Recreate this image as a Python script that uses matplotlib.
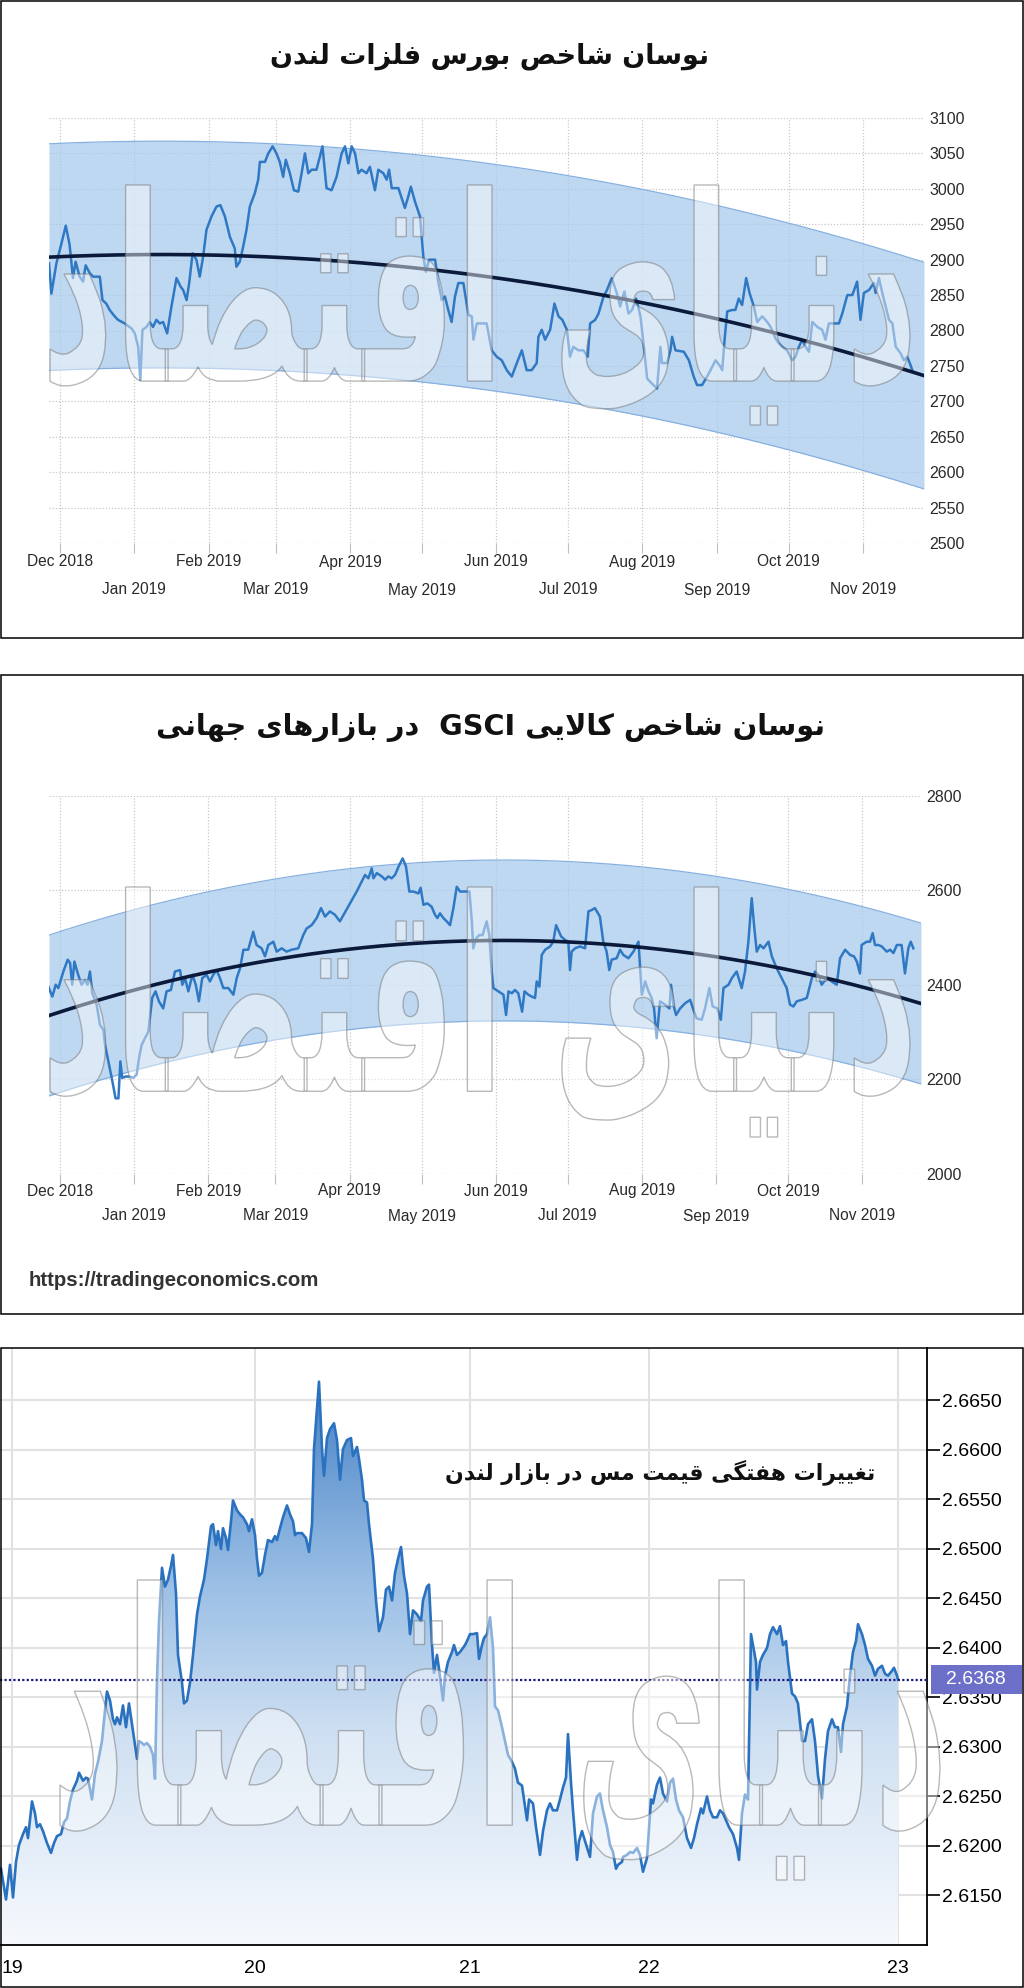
import numpy as np
import pandas as pd
import matplotlib
matplotlib.use("Agg")
import matplotlib.pyplot as plt
from matplotlib.patches import Rectangle, PathPatch
from matplotlib.colors import LinearSegmentedColormap
from matplotlib.textpath import TextPath
from matplotlib.font_manager import FontProperties
from matplotlib.transforms import Affine2D, blended_transform_factory

# ------------------------------------------------------------------ data
title_lme = "نوسان شاخص بورس فلزات لندن"
title_gsci = "نوسان شاخص کالایی GSCI  در بازارهای جهانی"
title_copper = "تغییرات هفتگی قیمت مس در بازار لندن"
source_text = "https://tradingeconomics.com"
watermark_text = "دنیای اقتصاد"

base_date = "2018-12-01"
month_starts = pd.date_range("2018-12-01", "2019-11-01", freq="MS")
month_labels = [d.strftime("%b %Y") for d in month_starts]

# LME index (days since 2018-12-01)
lme_days = [
    -4.6, -3.6, -1.5, 0.6, 2.4, 4.0, 5.4, 6.5, 8.2, 9.6,
    10.7, 12.4, 13.8, 16.6, 17.7, 19.3, 20.7, 22.8, 24.2, 27.0,
    29.8, 31.2, 32.6, 33.5, 34.4, 36.1, 37.4, 38.8, 40.2, 41.6,
    43.0, 44.7, 46.5, 48.6, 50.3, 51.4, 52.8, 53.9, 55.3, 56.9,
    58.3, 59.7, 61.1, 63.2, 65.3, 66.9, 68.8, 70.9, 72.9, 73.6,
    75.0, 76.4, 77.8, 79.2, 81.3, 82.7, 83.4, 85.5, 86.9, 88.7,
    90.3, 91.7, 93.1, 94.2, 95.9, 97.6, 99.4, 100.8, 102.2, 103.6,
    105.0, 107.0, 108.4, 109.5, 111.2, 113.3, 115.4,
    117.5, 118.9, 120.3, 121.7, 123.1, 124.5, 125.8, 127.9, 129.3, 131.4,
    132.8, 134.9, 136.3, 137.3, 138.4, 141.2, 143.9, 145.3, 146.4, 148.1,
    150.2, 151.6, 152.6, 154.0, 156.5, 157.9, 159.3, 160.6, 162.0, 163.4,
    164.8, 166.2, 168.3, 170.4, 171.8, 172.5, 173.9, 178.0, 180.1, 182.2,
    184.3, 186.4, 188.5, 190.6, 192.7, 194.7, 196.8, 198.9, 199.6, 201.0,
    202.4, 204.5, 206.3, 208.0, 209.6, 211.5, 212.8, 214.2, 216.3, 218.4,
    220.2, 221.2, 223.3, 224.7, 226.8, 228.2, 230.2, 232.3, 233.7, 235.5,
    237.2,
    238.7, 240.4, 242.2, 243.6, 245.0, 247.0, 249.1, 250.5, 251.2, 253.3,
    254.7, 255.4, 256.8, 260.3, 262.4, 264.4, 265.8, 267.9, 270.0, 271.4,
    273.5, 275.6, 276.3, 277.4, 278.4, 280.5, 281.8, 283.2, 284.6, 286.3,
    287.7, 289.5, 290.9, 293.0, 295.1, 296.5, 298.5, 299.9, 301.3, 303.4,
    305.5, 306.9, 308.3, 309.7, 311.1, 312.5, 313.9, 316.0, 318.0, 319.4,
    320.8, 325.0, 326.4, 328.5, 330.6, 332.6, 334.0, 335.4, 337.5, 339.6,
    340.3, 341.7, 343.1, 344.5, 345.9, 347.3, 348.7, 350.7, 352.1, 353.5,
    354.9, 355.6,
]
lme_values = [
    2895, 2852, 2895, 2923, 2948, 2921, 2874, 2897, 2876, 2869,
    2892, 2881, 2876, 2876, 2843, 2838, 2829, 2820, 2815, 2810,
    2803, 2796, 2777, 2730, 2801, 2805, 2812, 2805, 2815, 2810,
    2812, 2796, 2834, 2874, 2862, 2857, 2843, 2867, 2909, 2900,
    2876, 2904, 2942, 2961, 2975, 2977, 2961, 2932, 2916, 2890,
    2897, 2918, 2942, 2975, 2994, 3013, 3038, 3038, 3050, 3060,
    3050, 3038, 3017, 3041, 3022, 2998, 2996, 3022, 3050, 3022,
    3027, 3027, 3045, 3060, 3001, 2998, 3017,
    3050, 3060, 3036, 3060, 3050, 3022, 3027, 3022, 3031, 2998,
    3027, 3022, 3013, 3027, 3001, 3001, 2973, 2989, 3003, 2982,
    2961, 2904, 2883, 2900, 2900, 2867, 2843, 2848, 2829, 2812,
    2848, 2867, 2867, 2822, 2820, 2787, 2810, 2810, 2772, 2763,
    2758, 2744, 2735, 2754, 2772, 2744, 2744, 2754, 2791, 2801,
    2787, 2801, 2838, 2820, 2815, 2801, 2763, 2777, 2772, 2772,
    2763, 2810, 2815, 2824, 2848, 2857, 2874, 2853, 2834, 2855,
    2824,
    2829, 2845, 2820, 2777, 2732, 2725, 2718, 2777, 2754, 2754,
    2772, 2791, 2772, 2770, 2758, 2735, 2723, 2723, 2735, 2744,
    2758, 2749, 2744, 2791, 2827, 2829, 2829, 2845, 2836, 2874,
    2853, 2834, 2812, 2820, 2812, 2805, 2789, 2782, 2777, 2772,
    2758, 2763, 2777, 2787, 2777, 2770, 2812, 2805, 2801, 2787,
    2810, 2810, 2824, 2850, 2850, 2869, 2815, 2853, 2857, 2867,
    2853, 2874, 2853, 2834, 2815, 2810, 2777, 2768, 2758, 2763,
    2751, 2744,
]
lme_trend_days = [-4.6, 55.5, 98.7, 116.0, 178.7, 241.4, 300.0, 360.5]
lme_trend_values = [2903, 2907, 2902, 2900, 2874, 2841, 2794, 2737]
lme_band = 160
lme_yticks = list(range(2500, 3101, 50))

# GSCI index
gsci_days = [
    -4.9, -3.2, -1.8, -0.7, 1.4, 3.2, 4.2, 5.1, 6.0, 7.4,
    9.0, 10.4, 11.5, 12.5, 13.5, 15.3, 16.7, 18.1, 18.8, 20.2,
    21.6, 23.2, 24.4, 25.2, 26.0, 27.4, 29.2, 30.6, 32.0, 33.0,
    34.1, 35.5, 36.9, 38.5, 39.9, 41.3, 43.1, 44.5, 46.3, 48.0,
    50.1, 51.1, 52.2, 53.6, 55.3, 56.7, 58.0, 59.4, 61.2, 62.6,
    64.0, 65.4, 66.8, 68.2, 70.3, 72.4, 73.8, 75.2, 76.6, 78.6,
    80.7, 82.1, 84.2, 85.6, 87.0, 89.1, 90.5, 92.6, 94.6, 96.7,
    99.5, 101.6, 103.0, 105.1, 107.2, 109.0, 110.7, 112.7, 114.8, 116.9,
    123.9, 124.6, 126.0, 127.4, 128.8, 130.2, 130.9, 132.3, 134.4, 135.8,
    137.1, 138.5, 139.9, 141.7, 143.1, 144.5, 145.9, 147.6, 149.7, 150.6,
    151.8, 153.4, 155.2, 156.6, 157.6, 158.7, 160.1, 161.5, 162.9, 164.3,
    165.7, 167.1, 169.2, 171.0, 172.0, 172.6, 173.8, 175.1, 176.5, 178.2,
    179.3, 180.3, 181.0, 183.1, 185.2, 186.3, 187.3, 188.7, 190.0, 191.4,
    193.0, 194.0, 195.6, 197.0, 198.4, 199.1, 200.2, 201.2, 202.6, 204.7,
    206.0, 207.2, 209.3, 210.9, 212.3, 213.0, 213.7, 215.1, 217.2, 219.3,
    220.7, 222.1, 223.4, 225.5, 226.9, 228.3, 229.4, 230.4, 232.5, 233.9,
    235.3, 237.4, 239.5,
    241.6, 243.0, 244.4, 245.8, 247.1, 248.1, 249.2, 250.6, 252.7, 254.5,
    255.2, 256.2, 257.3, 259.0, 261.1, 263.2, 264.8, 265.9, 268.0, 269.4,
    271.2, 272.6, 274.6, 276.0, 277.1, 279.2, 280.6, 282.6, 284.7, 286.1,
    287.5, 288.9, 290.0, 291.0, 292.4, 293.8, 295.9, 297.3, 299.3, 301.4,
    303.5, 304.9, 306.3, 307.7, 309.8, 311.9, 314.0, 315.4, 316.7, 318.1,
    320.2, 322.3, 324.4, 325.8, 327.9, 330.0, 331.6, 332.8, 334.1, 334.8,
    336.9, 338.3, 339.4, 340.4, 341.8, 343.2, 345.3, 346.7, 348.1, 349.5,
    351.5, 352.9, 354.3, 355.3, 356.4,
]
gsci_values = [
    2396, 2375, 2400, 2393, 2428, 2453, 2446, 2400, 2449, 2424,
    2400, 2410, 2400, 2428, 2382, 2358, 2315, 2305, 2273, 2238,
    2203, 2160, 2160, 2238, 2203, 2206, 2206, 2203, 2210, 2245,
    2273, 2287, 2301, 2372, 2386, 2365, 2350, 2386, 2389, 2428,
    2431, 2400, 2414, 2386, 2421, 2400, 2365, 2414, 2421, 2407,
    2421, 2431, 2414, 2393, 2393, 2379, 2414, 2435, 2474, 2474,
    2512, 2484, 2477, 2460, 2484, 2491, 2470, 2477, 2470, 2474,
    2477, 2505, 2519, 2526, 2541, 2562, 2544, 2555, 2548, 2534,
    2597, 2604, 2618, 2632, 2625, 2646, 2625, 2636, 2629, 2622,
    2629, 2625, 2632, 2653, 2667, 2650, 2597, 2597, 2593, 2605,
    2569, 2572, 2565, 2548, 2541, 2551, 2541, 2534, 2526, 2562,
    2607, 2597, 2597, 2597, 2534, 2477, 2498, 2505, 2505, 2534,
    2505, 2428, 2393, 2386, 2379, 2336, 2386, 2382, 2389, 2382,
    2343, 2386, 2379, 2375, 2372, 2407, 2396, 2463, 2474, 2481,
    2491, 2526, 2502, 2495, 2491, 2431, 2470, 2477, 2481, 2477,
    2555, 2558, 2562, 2544, 2491, 2470, 2431, 2453, 2456, 2474,
    2463, 2456, 2470,
    2491, 2379, 2407, 2386, 2372, 2350, 2287, 2365, 2358, 2350,
    2400, 2358, 2336, 2350, 2361, 2368, 2343, 2329, 2326, 2350,
    2393, 2354, 2350, 2326, 2393, 2400, 2414, 2428, 2393, 2428,
    2491, 2583, 2519, 2470, 2484, 2477, 2491, 2460, 2435, 2414,
    2393, 2358, 2354, 2365, 2368, 2372, 2414, 2428, 2421, 2400,
    2414, 2407, 2400, 2456, 2474, 2463, 2460, 2449, 2424, 2484,
    2491, 2491, 2509, 2484, 2484, 2481, 2470, 2474, 2467, 2484,
    2484, 2424, 2477, 2491, 2477,
]
gsci_trend_days = [-4.9, 56.4, 119.0, 179.6, 242.2, 300.7, 359.9]
gsci_trend_values = [2335, 2417, 2477, 2495, 2484, 2424, 2365]
gsci_band = 170
gsci_yticks = [2000, 2200, 2400, 2600, 2800]

# Copper weekly (x = bar index along the week)
copper_bars = [
    1, 6, 10, 13, 16, 19, 23, 26, 28, 32,
    35, 37, 40, 43, 47, 51, 54, 57, 61, 64,
    67, 70, 73, 77, 79, 83, 86, 88, 92, 95,
    98, 102, 105, 107, 110, 113, 115, 117, 120, 123,
    126, 129, 132, 134, 137, 139, 142, 144, 147, 150,
    153, 155, 157, 159, 162, 165, 168, 171, 173, 176,
    178, 182, 184, 187, 190, 193, 197, 200, 204, 207,
    211, 213, 216, 218, 221, 223, 226, 228, 231, 233,
    237, 240, 243, 247, 249, 252, 255, 257, 259, 262,
    265, 268, 272, 275, 277, 280, 283, 287, 290, 293,
    295, 297, 302, 306, 309, 312, 314,
    319, 322, 324, 327, 330, 334, 337, 340, 343, 347,
    351, 353, 357, 359, 362, 364, 367, 369, 373, 376,
    379, 383, 386, 389, 392, 395, 398, 401, 404, 407,
    410, 413, 417, 421, 423, 427, 429, 432, 434, 437,
    439, 443, 445, 448, 452, 454, 457, 460, 463, 465,
    467, 470, 473, 477, 479, 482, 484, 487, 490, 493,
    495, 498, 502, 505, 508, 512, 515, 518, 522, 524,
    527, 529, 533, 536, 540, 543, 547, 550, 553, 557,
    560, 563, 566, 568, 571, 573, 577, 579, 582, 585,
    590, 593, 597, 600, 603, 607, 610, 613, 616, 618,
    622,
    623, 627, 630, 633, 637, 640, 643, 647, 651, 653,
    657, 660, 663, 667, 670, 673, 676, 679, 683, 687,
    691, 694, 697, 701, 703, 707, 710, 713, 717, 720,
    723, 726, 729, 733, 737, 739, 742, 745, 748, 751,
    753, 756, 757, 760, 763, 767, 770, 773, 777, 780,
    783, 786, 788, 792, 795, 798, 802, 805, 808, 812,
    815, 818, 822, 825, 828, 832, 835, 838, 841, 843,
    847, 850, 853, 856, 858, 862, 865, 868, 872, 875,
    878, 882, 885, 888, 892, 894, 897, 898,
]
copper_values = [
    2.6177, 2.6146, 2.6181, 2.6148, 2.6184, 2.6201, 2.6212, 2.6219, 2.6208, 2.6245,
    2.6233, 2.6219, 2.6222, 2.6215, 2.6203, 2.6193, 2.6203, 2.6210, 2.6212, 2.6224,
    2.6228, 2.6245, 2.6257, 2.6266, 2.6274, 2.6266, 2.6269, 2.6268, 2.6247, 2.6273,
    2.6285, 2.6306, 2.6337, 2.6356, 2.6347, 2.6328, 2.6323, 2.6330, 2.6323, 2.6342,
    2.6320, 2.6344, 2.6323, 2.6309, 2.6288, 2.6306, 2.6304, 2.6302, 2.6304, 2.6300,
    2.6292, 2.6268, 2.6368, 2.6427, 2.6481, 2.6462, 2.6469, 2.6483, 2.6494, 2.6455,
    2.6393, 2.6365, 2.6344, 2.6347, 2.6365, 2.6393, 2.6434, 2.6452, 2.6469, 2.6490,
    2.6523, 2.6525, 2.6504, 2.6518, 2.6500, 2.6521, 2.6511, 2.6499, 2.6528, 2.6549,
    2.6539, 2.6535, 2.6532, 2.6525, 2.6518, 2.6530, 2.6514, 2.6490, 2.6473, 2.6476,
    2.6494, 2.6509, 2.6507, 2.6513, 2.6509, 2.6521, 2.6532, 2.6544, 2.6535, 2.6528,
    2.6514, 2.6516, 2.6516, 2.6511, 2.6497, 2.6525, 2.6601,
    2.6669, 2.6601, 2.6574, 2.6612, 2.6621, 2.6627, 2.6610, 2.6570, 2.6601, 2.6610,
    2.6612, 2.6594, 2.6603, 2.6591, 2.6570, 2.6549, 2.6547, 2.6525, 2.6490, 2.6448,
    2.6417, 2.6431, 2.6459, 2.6462, 2.6448, 2.6476, 2.6490, 2.6502, 2.6473, 2.6455,
    2.6414, 2.6438, 2.6434, 2.6427, 2.6448, 2.6462, 2.6464, 2.6403, 2.6375, 2.6393,
    2.6379, 2.6347, 2.6372, 2.6386, 2.6396, 2.6403, 2.6393, 2.6396, 2.6400, 2.6403,
    2.6407, 2.6414, 2.6414, 2.6415, 2.6389, 2.6403, 2.6410, 2.6414, 2.6431, 2.6400,
    2.6341, 2.6337, 2.6320, 2.6306, 2.6292, 2.6285, 2.6278, 2.6264, 2.6261, 2.6247,
    2.6226, 2.6247, 2.6243, 2.6219, 2.6191, 2.6215, 2.6236, 2.6243, 2.6236, 2.6236,
    2.6247, 2.6259, 2.6269, 2.6313, 2.6264, 2.6236, 2.6186, 2.6205, 2.6215, 2.6205,
    2.6189, 2.6233, 2.6250, 2.6253, 2.6236, 2.6219, 2.6201, 2.6194, 2.6177, 2.6181,
    2.6184,
    2.6189, 2.6191, 2.6194, 2.6193, 2.6198, 2.6191, 2.6174, 2.6188, 2.6247, 2.6243,
    2.6262, 2.6269, 2.6253, 2.6245, 2.6264, 2.6268, 2.6247, 2.6236, 2.6229, 2.6208,
    2.6198, 2.6208, 2.6222, 2.6238, 2.6233, 2.6250, 2.6236, 2.6229, 2.6229, 2.6236,
    2.6233, 2.6226, 2.6219, 2.6212, 2.6198, 2.6186, 2.6233, 2.6252, 2.6247, 2.6414,
    2.6403, 2.6386, 2.6358, 2.6386, 2.6393, 2.6400, 2.6414, 2.6421, 2.6414, 2.6422,
    2.6403, 2.6407, 2.6386, 2.6354, 2.6351, 2.6344, 2.6306, 2.6306, 2.6323, 2.6328,
    2.6306, 2.6271, 2.6248, 2.6288, 2.6316, 2.6328, 2.6320, 2.6320, 2.6295, 2.6323,
    2.6341, 2.6372, 2.6396, 2.6407, 2.6424, 2.6414, 2.6403, 2.6389, 2.6382, 2.6372,
    2.6379, 2.6382, 2.6374, 2.6372, 2.6377, 2.6380, 2.6372, 2.6368,
]
copper_day_labels = ["19", "20", "21", "22", "23"]
copper_day_bars = [12, 255, 470, 649, 898]
copper_last = 2.6368
copper_yticks = [2.6150, 2.6200, 2.6250, 2.6300, 2.6350, 2.6400,
                 2.6450, 2.6500, 2.6550, 2.6600, 2.6650]

assert len(lme_days) == len(lme_values)
assert len(gsci_days) == len(gsci_values)
assert len(copper_bars) == len(copper_values)

# ------------------------------------------------------------------ Persian shaping
FORMS = {
    'ا': (0xFE8D, 0xFE8E, None, None), 'آ': (0xFE81, 0xFE82, None, None),
    'ب': (0xFE8F, 0xFE90, 0xFE91, 0xFE92), 'پ': (0xFB56, 0xFB57, 0xFB58, 0xFB59),
    'ت': (0xFE95, 0xFE96, 0xFE97, 0xFE98), 'ث': (0xFE99, 0xFE9A, 0xFE9B, 0xFE9C),
    'ج': (0xFE9D, 0xFE9E, 0xFE9F, 0xFEA0), 'چ': (0xFB7A, 0xFB7B, 0xFB7C, 0xFB7D),
    'ح': (0xFEA1, 0xFEA2, 0xFEA3, 0xFEA4), 'خ': (0xFEA5, 0xFEA6, 0xFEA7, 0xFEA8),
    'د': (0xFEA9, 0xFEAA, None, None), 'ذ': (0xFEAB, 0xFEAC, None, None),
    'ر': (0xFEAD, 0xFEAE, None, None), 'ز': (0xFEAF, 0xFEB0, None, None),
    'ژ': (0xFB8A, 0xFB8B, None, None),
    'س': (0xFEB1, 0xFEB2, 0xFEB3, 0xFEB4), 'ش': (0xFEB5, 0xFEB6, 0xFEB7, 0xFEB8),
    'ص': (0xFEB9, 0xFEBA, 0xFEBB, 0xFEBC), 'ض': (0xFEBD, 0xFEBE, 0xFEBF, 0xFEC0),
    'ط': (0xFEC1, 0xFEC2, 0xFEC3, 0xFEC4), 'ظ': (0xFEC5, 0xFEC6, 0xFEC7, 0xFEC8),
    'ع': (0xFEC9, 0xFECA, 0xFECB, 0xFECC), 'غ': (0xFECD, 0xFECE, 0xFECF, 0xFED0),
    'ف': (0xFED1, 0xFED2, 0xFED3, 0xFED4), 'ق': (0xFED5, 0xFED6, 0xFED7, 0xFED8),
    'ک': (0xFB8E, 0xFB8F, 0xFB90, 0xFB91), 'گ': (0xFB92, 0xFB93, 0xFB94, 0xFB95),
    'ل': (0xFEDD, 0xFEDE, 0xFEDF, 0xFEE0), 'م': (0xFEE1, 0xFEE2, 0xFEE3, 0xFEE4),
    'ن': (0xFEE5, 0xFEE6, 0xFEE7, 0xFEE8), 'ه': (0xFEE9, 0xFEEA, 0xFEEB, 0xFEEC),
    'و': (0xFEED, 0xFEEE, None, None), 'ی': (0xFBFC, 0xFBFD, 0xFBFE, 0xFBFF),
    'LA': (0xFEFB, 0xFEFC, None, None), 'LAA': (0xFEF5, 0xFEF6, None, None),
}


def shape_word(word):
    toks = []
    i = 0
    while i < len(word):
        c = word[i]
        if c == 'ل' and i + 1 < len(word) and word[i + 1] in ('ا', 'آ'):
            toks.append('LA' if word[i + 1] == 'ا' else 'LAA')
            i += 2
            continue
        toks.append(c)
        i += 1

    def dual(t):
        return t in FORMS and FORMS[t][2] is not None

    out = []
    for k, t in enumerate(toks):
        if t not in FORMS:
            out.append(t)
            continue
        cp = k > 0 and dual(toks[k - 1])
        cn = k < len(toks) - 1 and dual(t) and toks[k + 1] in FORMS
        iso, fin, ini, med = FORMS[t]
        if cp and cn:
            g = med
        elif cp:
            g = fin
        elif cn:
            g = ini
        else:
            g = iso
        out.append(chr(g))
    return ''.join(reversed(out))


def rtl(text):
    parts = text.split(' ')
    res = []
    for p in reversed(parts):
        if any('\u0600' <= ch <= '\u06FF' for ch in p):
            res.append(shape_word(p))
        else:
            res.append(p)
    return ' '.join(res)


# ------------------------------------------------------------------ figure
W, H = 1024, 1988
fig = plt.figure(figsize=(W / 100, H / 100), dpi=100, facecolor='white')
renderer = fig.canvas.get_renderer()

LAT = ['Liberation Sans', 'DejaVu Sans']
ARAB = ['DejaVu Sans']


def add_ax(x0, y0, x1, y1, **kw):
    return fig.add_axes([x0 / W, 1 - y1 / H, (x1 - x0) / W, (y1 - y0) / H], **kw)


def fit_width(t, target):
    bb = t.get_window_extent(renderer)
    t.set_fontsize(t.get_fontsize() * target / bb.width)


band_color = '#a9cbee'
line_color = '#2f78c4'
trend_color = '#0b1a3a'
grid_color = '#c8c8c8'


def band_panel(ax, days, values, tdays, tvals, half, yticks, ylim, xlim, row_off):
    ax.set_xlim(*xlim)
    ax.set_ylim(*ylim)
    base = pd.Timestamp(base_date)
    mdays = [(d - base).days for d in month_starts]
    ax.set_xticks(mdays)
    ax.set_yticks(yticks)
    ax.grid(True, color=grid_color, linestyle=(0, (1, 1.5)), linewidth=0.9)
    ax.set_axisbelow(True)
    for s in ax.spines.values():
        s.set_visible(False)
    ax.yaxis.tick_right()
    ax.tick_params(axis='y', length=0, pad=4, labelsize=11.5, labelcolor='#2a2a2a')
    ax.tick_params(axis='x', length=7, color='#c0c0c0', labelbottom=False)
    for lab in ax.get_yticklabels():
        lab.set_fontfamily(LAT)
    coef = np.polyfit(tdays, tvals, 2)
    xf = np.linspace(xlim[0], xlim[1], 400)
    tr = np.polyval(coef, xf)
    ax.fill_between(xf, tr - half, tr + half, color=band_color, alpha=0.75,
                    linewidth=0, zorder=2)
    ax.plot(xf, tr + half, color='#86b0e0', lw=0.9, zorder=2.5)
    ax.plot(xf, tr - half, color='#86b0e0', lw=0.9, zorder=2.5)
    ax.plot(days, values, color=line_color, lw=1.8, zorder=4)
    ax.plot(xf, tr, color=trend_color, lw=2.6, zorder=5)
    tf = blended_transform_factory(ax.transData, ax.transAxes)
    for k, (d, lab) in enumerate(zip(mdays, month_labels)):
        ax.text(d, row_off[k % 2], lab, transform=tf, ha='center', va='center',
                fontsize=11.2, color='#2a2a2a', family=LAT)


# Panel 1 -------------------------------------------------------------
ax1 = add_ax(49, 118, 924, 543)
band_panel(ax1, lme_days, lme_values, lme_trend_days, lme_trend_values, lme_band,
           lme_yticks, (2500, 3100), (-4.6, 360.5), (-19 / 425, -47 / 425))

# Panel 2 -------------------------------------------------------------
ax2 = add_ax(49, 795.5, 921, 1174)
band_panel(ax2, gsci_days, gsci_values, gsci_trend_days, gsci_trend_values, gsci_band,
           gsci_yticks, (2000, 2800), (-4.6, 359.6), (-17 / 378.5, -42 / 378.5))

# Panel 3 -------------------------------------------------------------
ax3 = add_ax(0, 1348, 927, 1945)
ylo, yhi = 2.6100, 2.6703
ax3.set_xlim(0, 927)
ax3.set_ylim(ylo, yhi)
ax3.set_yticks(copper_yticks)
ax3.set_yticklabels([f"{v:.4f}" for v in copper_yticks])
ax3.set_xticks(copper_day_bars)
ax3.set_xticklabels(copper_day_labels)
ax3.yaxis.tick_right()
ax3.tick_params(axis='y', direction='out', length=9, width=1.2, color='black',
                pad=1.5, labelsize=14, labelcolor='black')
ax3.tick_params(axis='x', length=0, pad=11, labelsize=14, labelcolor='black')
for lab in ax3.get_yticklabels() + ax3.get_xticklabels():
    lab.set_fontfamily(LAT)
ax3.grid(True, color='#e2e2e2', linewidth=1.5)
ax3.set_axisbelow(True)
ax3.spines['top'].set_visible(False)
ax3.spines['left'].set_visible(False)
ax3.spines['right'].set_linewidth(1.3)
ax3.spines['bottom'].set_linewidth(1.3)

poly = ax3.fill_between(copper_bars, copper_values, ylo, color='none', linewidth=0)
cmap = LinearSegmentedColormap.from_list(
    'cu', [(0.0, '#f6f9fd'), (0.35, '#cfe0f2'), (0.6, '#9cc0e6'), (1.0, '#3a78c0')])
grad = np.linspace(0, 1, 256).reshape(-1, 1)
im = ax3.imshow(grad, extent=[0, 927, ylo, yhi], origin='lower', aspect='auto',
                cmap=cmap, zorder=2)
clip = PathPatch(poly.get_paths()[0], transform=ax3.transData,
                 facecolor='none', edgecolor='none')
ax3.add_patch(clip)
im.set_clip_path(clip)
ax3.plot(copper_bars, copper_values, color='#2a72c0', lw=1.9, zorder=4)
ax3.axhline(copper_last, color='#1c1c80', lw=1.6, linestyle=(0, (1, 1)), zorder=5)

# ------------------------------------------------------------------ overlay
ov = fig.add_axes([0, 0, 1, 1], zorder=20)
ov.set_xlim(0, W)
ov.set_ylim(H, 0)
ov.axis('off')
ov.patch.set_visible(False)

for (x0, y0, x1, y1) in [(1, 1, 1023, 638), (1, 675, 1023, 1314), (1, 1348, 1023, 1987)]:
    ov.add_patch(Rectangle((x0, y0), x1 - x0, y1 - y0, fill=False,
                           edgecolor='black', lw=1.1))

t1 = ov.text(490, 57, rtl(title_lme), ha='center', va='center', fontsize=20,
             fontweight='bold', family=ARAB, color='#111111')
fit_width(t1, 438)
t2 = ov.text(491, 727, rtl(title_gsci), ha='center', va='center', fontsize=20,
             fontweight='bold', family=ARAB, color='#111111')
fit_width(t2, 669)
t3 = ov.text(660, 1472, rtl(title_copper), ha='center', va='center', fontsize=20,
             fontweight='bold', family=ARAB, color='#111111')
fit_width(t3, 431)
t4 = ov.text(29, 1281, source_text, ha='left', va='center', fontsize=13,
             fontweight='bold', family=LAT, color='#333333')
fit_width(t4, 291)

# last-price label
fig.canvas.draw()
ypx = H - ax3.transData.transform((0, copper_last))[1]
ov.add_patch(Rectangle((931, ypx - 14.5), 91, 29, facecolor='#6c70c8',
                       edgecolor='none', zorder=6))
ov.text(976, ypx, f"{copper_last:.4f}", ha='center', va='center', fontsize=14,
        color='white', family=LAT, zorder=7)

# watermark (publisher logo), drawn as outlined translucent text
fp = FontProperties(family='DejaVu Sans', weight='bold')
wm_path = TextPath((0, 0), rtl(watermark_text), size=100, prop=fp)
ext = wm_path.get_extents()
for (cx, cy, w, hgt) in [(480, 305, 860, 240), (480, 1012, 860, 250), (500, 1730, 880, 300)]:
    sx = w / ext.width
    sy = hgt / ext.height
    tr = Affine2D().scale(sx, -sy).translate(cx - sx * (ext.x0 + ext.x1) / 2,
                                              cy + sy * (ext.y0 + ext.y1) / 2)
    ov.add_patch(PathPatch(wm_path, transform=tr + ov.transData,
                           facecolor=(1, 1, 1, 0.45), edgecolor=(0.45, 0.45, 0.45, 0.5),
                           lw=1.0, zorder=3))

fig.savefig("out.png", dpi=100, facecolor='white')
